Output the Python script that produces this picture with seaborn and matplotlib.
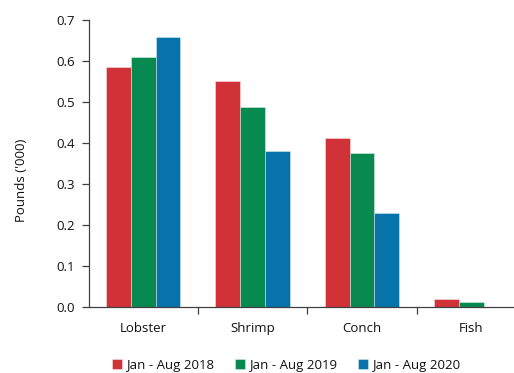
import matplotlib
matplotlib.use("Agg")
import matplotlib.pyplot as plt
import seaborn as sns
import pandas as pd
from matplotlib.ticker import FixedLocator, MultipleLocator

categories = ["Lobster", "Shrimp", "Conch", "Fish"]
periods = ["Jan - Aug 2018", "Jan - Aug 2019", "Jan - Aug 2020"]
vals_2018 = [0.586, 0.550, 0.411, 0.019]
vals_2019 = [0.610, 0.487, 0.376, 0.013]
vals_2020 = [0.659, 0.381, 0.229, 0.0]
colors = ["#D13237", "#07894F", "#0773AB"]

rows = []
for period, vals in zip(periods, [vals_2018, vals_2019, vals_2020]):
    for cat, v in zip(categories, vals):
        rows.append({"Species": cat, "Period": period, "Pounds": v})
df = pd.DataFrame(rows)

sns.set_theme(style="white")
plt.rcParams["font.family"] = ["Open Sans", "DejaVu Sans"]

fig = plt.figure(figsize=(5.14, 3.73), dpi=100)
ax = fig.add_axes([88.5 / 514, 1 - 307 / 373, (526 - 88.5) / 514, (307 - 20) / 373])

sns.barplot(data=df, x="Species", y="Pounds", hue="Period", order=categories,
            hue_order=periods, palette=colors, width=0.68, gap=0,
            saturation=1, edgecolor=(1, 1, 1, 0.45), linewidth=0.6, ax=ax)

ax.set_xlim(-0.5, len(categories) - 0.5)
ax.set_ylim(0, 0.7)
ax.yaxis.set_major_locator(MultipleLocator(0.1))
ax.set_yticklabels([f"{t:.1f}" for t in ax.get_yticks()])

spine_col = "#404040"
for s in ["top", "right"]:
    ax.spines[s].set_visible(False)
for s in ["left", "bottom"]:
    ax.spines[s].set_color(spine_col)
    ax.spines[s].set_linewidth(0.9)

ax.tick_params(axis="y", which="major", length=5, width=0.9, color=spine_col,
               direction="out", left=True, labelsize=9.5, pad=5, labelcolor="#111111")
ax.tick_params(axis="x", which="major", length=0, labelsize=9.5, pad=11,
               labelcolor="#111111")
ax.xaxis.set_minor_locator(FixedLocator([0.5, 1.5, 2.5]))
ax.tick_params(axis="x", which="minor", length=5, width=0.9, color=spine_col,
               direction="out", bottom=True)

ax.set_xlabel("")
ax.set_ylabel("Pounds ('000)", fontsize=9.5, color="#111111")
ax.yaxis.set_label_coords(28 / 514, 1 - 180 / 373, transform=fig.transFigure)

handles, labels = ax.get_legend_handles_labels()
ax.get_legend().remove()
fig.legend(handles, labels, loc="center", ncol=3, frameon=False,
           bbox_to_anchor=(286 / 514, 1 - 365 / 373), fontsize=9.5,
           handlelength=0.75, handleheight=0.75, handletextpad=0.3,
           columnspacing=1.6, labelcolor="#111111")

fig.savefig("out.png", dpi=100)
